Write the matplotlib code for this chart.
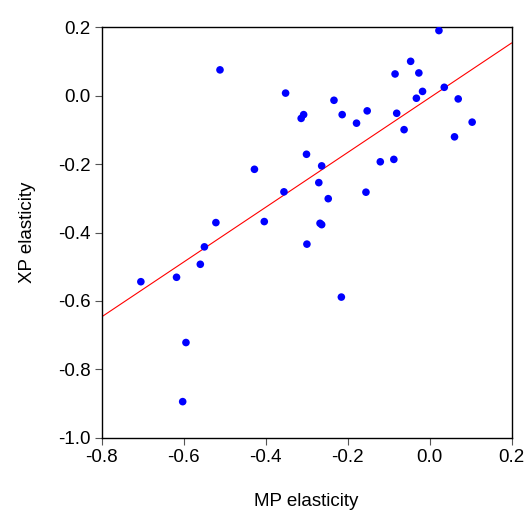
import numpy as np
import matplotlib
matplotlib.use("Agg")
from matplotlib import pyplot as plt

plt.rcParams['font.family'] = ['Liberation Sans', 'DejaVu Sans']

# MP / XP elasticities
mp = [-0.511, -0.351, -0.307, -0.313, -0.300, -0.427, -0.355, -0.521, -0.403,
      0.023, -0.046, -0.084, -0.026, -0.017, -0.032, 0.036, 0.070, 0.104,
      0.061, -0.233, -0.213, -0.178, -0.152, -0.080, -0.062,
      -0.263, -0.270, -0.247, -0.267, -0.263, -0.155, -0.120, -0.087,
      -0.549, -0.559, -0.617, -0.704, -0.594, -0.602, -0.299, -0.215]
xp = [0.076, 0.008, -0.055, -0.066, -0.171, -0.215, -0.281, -0.371, -0.368,
      0.191, 0.101, 0.064, 0.067, 0.013, -0.007, 0.025, -0.009, -0.077,
      -0.120, -0.013, -0.055, -0.080, -0.044, -0.051, -0.099,
      -0.205, -0.254, -0.301, -0.373, -0.377, -0.282, -0.193, -0.186,
      -0.442, -0.493, -0.531, -0.544, -0.722, -0.895, -0.434, -0.589]

xticks = [-0.8, -0.6, -0.4, -0.2, 0.0, 0.2]
yticks = [0.2, 0.0, -0.2, -0.4, -0.6, -0.8, -1.0]

mp = np.array(mp)
xp = np.array(xp)

fig = plt.figure(figsize=(5.27, 5.14), dpi=100)
ax = fig.add_axes([0.1926, 0.1488, 0.778, 0.7977])

# regression line
b, a = np.polyfit(mp, xp, 1)
xx = np.array([-0.8, 0.2])
ax.plot(xx, a + b * xx, color='red', lw=0.8, zorder=2)

ax.scatter(mp, xp, s=30, color='blue', edgecolors='none', zorder=3)

ax.set_xlim(-0.8, 0.2)
ax.set_ylim(-1.0, 0.2)
ax.set_xticks(xticks)
ax.set_yticks(yticks)
ax.set_xticklabels(['%.1f' % t for t in xticks])
ax.set_yticklabels(['%.1f' % t for t in yticks])
ax.tick_params(direction='out', length=5, width=0.8, pad=3, labelsize=13.5,
               color='#555555')
for s in ax.spines.values():
    s.set_linewidth(1.0)

ax.set_xlabel('MP elasticity', fontsize=13.5, labelpad=20)
ax.set_ylabel('XP elasticity', fontsize=13.5, labelpad=16)

plt.savefig('out.png', dpi=100)
